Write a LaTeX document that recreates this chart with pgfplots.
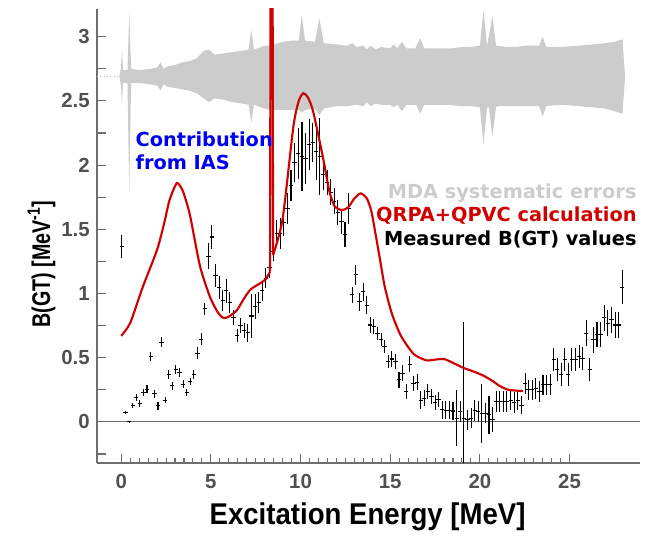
\documentclass[border=0pt]{standalone}
\usepackage{pgfplots}
\pgfplotsset{compat=1.18}
\usepackage{pgfplotstable}
\usepackage{fontspec}
\setmainfont{Liberation Sans}
\newfontfamily\dejavu{DejaVu Sans}
\newfontfamily\tickfont{Liberation Sans}
\newfontfamily\xlabfont{Liberation Sans}[FakeStretch=0.92]
\newfontfamily\ylabfont{Liberation Sans}[FakeStretch=0.77]
\definecolor{bandgray}{RGB}{204,204,204}
\definecolor{tickgray}{RGB}{80,80,80}
\definecolor{axgray}{RGB}{110,110,110}
\definecolor{calcred}{RGB}{208,0,0}
\definecolor{iasblue}{RGB}{0,0,240}

\pgfplotstableread{
x y e
0.04 1.365 0.09
0.24 0.072 0.012
0.44 0.000 0.006
0.64 0.125 0.02
0.84 0.19 0.025
1.04 0.145 0.025
1.24 0.23 0.025
1.44 0.255 0.03
1.65 0.51 0.035
1.85 0.22 0.03
2.05 0.125 0.03
2.25 0.62 0.04
2.45 0.17 0.025
2.65 0.37 0.035
2.85 0.28 0.03
3.05 0.405 0.035
3.25 0.385 0.035
3.45 0.295 0.03
3.65 0.23 0.03
3.85 0.315 0.03
4.05 0.37 0.035
4.25 0.535 0.045
4.46 0.645 0.045
4.66 0.88 0.05
4.86 1.29 0.10
5.06 1.44 0.09
5.26 1.14 0.09
5.46 1.05 0.09
5.66 0.945 0.08
5.86 1.02 0.09
6.06 0.93 0.08
6.26 0.815 0.06
6.46 0.67 0.05
6.66 0.75 0.06
6.86 0.71 0.06
7.06 0.695 0.07
7.27 0.825 0.17
7.47 0.90 0.10
7.67 0.93 0.08
7.87 1.02 0.08
8.07 1.12 0.08
8.27 1.20 0.08
8.47 1.33 0.08
8.67 1.47 0.10
8.87 1.47 0.12
9.07 1.55 0.10
9.27 1.66 0.12
9.47 1.84 0.12
9.67 2.02 0.15
9.87 2.09 0.20
10.08 2.065 0.27
10.28 2.05 0.20
10.48 2.16 0.20
10.68 2.175 0.15
10.88 2.105 0.22
11.08 2.065 0.30
11.28 1.93 0.12
11.48 1.865 0.10
11.68 1.79 0.10
11.88 1.72 0.10
12.08 1.63 0.10
12.28 1.56 0.10
12.48 1.46 0.10
12.68 1.66 0.12
12.88 0.99 0.06
13.09 1.145 0.08
13.29 0.935 0.07
13.49 1.015 0.07
13.69 0.91 0.07
13.89 0.755 0.06
14.09 0.745 0.06
14.29 0.69 0.05
14.49 0.64 0.05
14.69 0.585 0.05
14.89 0.47 0.05
15.09 0.49 0.06
15.29 0.47 0.06
15.49 0.327 0.06
15.69 0.38 0.06
15.90 0.236 0.06
16.10 0.45 0.06
16.30 0.30 0.06
16.50 0.31 0.06
16.70 0.17 0.07
16.90 0.185 0.06
17.10 0.236 0.06
17.30 0.20 0.06
17.50 0.15 0.06
17.70 0.175 0.06
17.90 0.095 0.07
18.10 0.09 0.07
18.30 0.09 0.07
18.50 0.085 0.07
18.71 0.03 0.22
18.91 0.08 0.08
19.11 0.03 0.75
19.31 0.016 0.08
19.51 0.03 0.08
19.71 0.09 0.08
19.91 0.08 0.08
20.11 0.068 0.23
20.31 0.068 0.08
20.51 0.055 0.15
20.71 0.02 0.10
20.91 0.158 0.08
21.11 0.158 0.08
21.31 0.16 0.08
21.51 0.158 0.08
21.72 0.17 0.08
21.92 0.153 0.08
22.12 0.17 0.08
22.32 0.13 0.07
22.52 0.30 0.08
22.72 0.25 0.08
22.92 0.25 0.08
23.12 0.26 0.08
23.32 0.236 0.08
23.52 0.288 0.08
23.72 0.288 0.08
23.92 0.29 0.08
24.12 0.483 0.09
24.32 0.405 0.09
24.53 0.366 0.09
24.73 0.483 0.09
24.93 0.366 0.09
25.13 0.483 0.09
25.33 0.483 0.09
25.53 0.509 0.09
25.73 0.496 0.09
25.93 0.69 0.10
26.13 0.405 0.09
26.33 0.64 0.10
26.53 0.68 0.10
26.73 0.68 0.10
26.93 0.81 0.10
27.13 0.77 0.10
27.34 0.795 0.10
27.54 0.755 0.10
27.74 0.755 0.10
27.94 1.05 0.13
}\measured

\begin{document}
\begin{tikzpicture}
\useasboundingbox (-72.75pt,-57pt) rectangle (411.75pt,347.25pt);
\begin{axis}[
  at={(0,0)}, anchor=south west,
  width=407.25pt, height=340.5pt, scale only axis,
  xmin=-1.35, xmax=28.93, ymin=-0.32, ymax=3.216,
  axis x line*=bottom, axis y line*=left,
  axis line style={axgray, line width=0.9pt},
  tick align=inside,
  tick style={axgray, line width=0.8pt},
  major tick length=7pt, minor tick length=3.5pt,
  xtick={0,5,...,25}, minor x tick num=9,
  ytick={-0.25,0,0.25,...,3},
  yticklabels={{},0,{},0.5,{},1,{},1.5,{},2,{},2.5,{},3},
  /pgf/number format/assume math mode=true,
  tick label style={font=\tickfont\bfseries\fontsize{15.3}{16}\selectfont, text=tickgray},
  xticklabel style={yshift=-5pt},
  yticklabel style={xshift=-2pt},
  clip mode=individual,
]
% MDA systematic error band
\addplot[fill=bandgray, draw=none] coordinates {
(-0.11,2.69) (-0.02,2.75) (0.05,2.90) (0.1,2.74) (0.35,2.74) (0.45,3.19) (0.55,2.75) (1.0,2.74) (1.6,2.75) (2.0,2.76) (2.2,2.80) (2.35,2.75) (2.6,2.77) (3.0,2.78) (3.4,2.80) (3.8,2.81) (4.2,2.83) (4.6,2.89) (4.9,2.90) (5.2,2.86) (5.7,2.87) (6.2,2.88) (6.7,2.89) (7.1,2.90) (7.25,3.05) (7.4,2.90) (8.0,2.93) (8.3,2.93) (8.4,3.4) (8.5,2.94) (9.0,2.96) (9.5,2.97) (9.9,2.97) (10.07,3.17) (10.25,2.97) (10.8,2.96) (11.05,3.14) (11.3,2.95) (12.0,2.94) (12.6,2.93) (12.9,2.95) (13.1,2.92) (13.5,2.93) (13.7,2.90) (13.9,2.93) (14.2,2.90) (14.5,2.92) (15.0,2.91) (15.2,2.94) (15.4,2.91) (15.65,2.96) (15.9,2.91) (16.4,2.91) (16.67,2.99) (16.9,2.91) (17.5,2.91) (18.0,2.91) (18.5,2.91) (19.0,2.92) (19.5,2.92) (20.0,2.93) (20.2,3.21) (20.4,2.93) (20.7,3.16) (20.9,2.93) (21.5,2.92) (22.0,2.92) (22.5,2.93) (23.0,2.93) (23.3,2.93) (23.5,3.0) (23.7,2.92) (24.5,2.92) (25.5,2.93) (26.3,2.94) (27.0,2.95) (27.5,2.96) (27.95,2.98) (28.1,2.69)
(27.95,2.40) (27.5,2.42) (27.0,2.44) (26.3,2.45) (25.5,2.46) (24.5,2.47) (23.7,2.46) (23.5,2.38) (23.3,2.46) (23.0,2.46) (22.0,2.46) (21.0,2.46) (20.9,2.45) (20.7,2.22) (20.5,2.45) (20.4,2.45) (20.2,2.16) (20.0,2.45) (19.5,2.46) (19.0,2.46) (18.0,2.47) (17.5,2.47) (16.9,2.47) (16.67,2.40) (16.45,2.47) (15.9,2.47) (15.65,2.42) (15.4,2.47) (15.2,2.45) (15.0,2.47) (14.5,2.47) (14.2,2.48) (13.9,2.46) (13.7,2.49) (13.5,2.46) (13.1,2.47) (12.6,2.46) (12.0,2.46) (11.3,2.44) (11.05,2.39) (10.8,2.44) (10.25,2.43) (10.07,2.41) (9.9,2.43) (9.5,2.43) (9.0,2.43) (8.5,2.43) (8.4,2.2) (8.3,2.43) (8.0,2.44) (7.4,2.47) (7.25,2.33) (7.1,2.47) (6.7,2.48) (6.2,2.49) (5.7,2.51) (5.2,2.52) (4.9,2.49) (4.6,2.52) (4.2,2.56) (3.8,2.58) (3.4,2.59) (3.0,2.60) (2.6,2.61) (2.35,2.63) (2.2,2.58) (2.0,2.62) (1.6,2.63) (1.0,2.64) (0.55,2.64) (0.45,1.78) (0.35,2.64) (0.1,2.64) (0.05,2.48) (-0.02,2.63) (-0.11,2.69)
} -- cycle;
\addplot[bandgray!80!gray, dotted, line width=0.5pt] coordinates {(-1.35,2.69) (-0.11,2.69)};
% zero line
\addplot[axgray, line width=0.7pt] coordinates {(-1.35,0) (28.93,0)};
% measured values
\addplot[draw=none, mark=none,
  error bars/.cd, x dir=both, x fixed=0.12, y dir=both, y explicit,
  error mark=none, error bar style={draw=black, solid, line width=0.8pt}]
  table[x=x, y=y, y error=e] {\measured};
% QRPA+QPVC calculation
\addplot[calcred, line width=1.6pt, smooth, tension=0.4] coordinates {
(0,0.67) (0.5,0.77) (1.2,1.05) (2.0,1.34) (2.4,1.55) (2.7,1.73) (3.1,1.86) (3.4,1.81) (3.6,1.73) (3.85,1.6) (4.4,1.21) (4.96,0.97) (5.4,0.85) (5.7,0.81) (6.0,0.82) (6.45,0.87) (6.8,0.95) (7.2,1.03) (7.75,1.08) (8.05,1.11) (8.3,1.17)
};
\addplot[calcred, line width=1.6pt] coordinates {(8.3,1.17) (8.33,3.6) (8.44,3.6) (8.47,1.30)};
\addplot[calcred, line width=1.6pt, smooth, tension=0.4] coordinates {
(8.47,1.30) (9.0,1.58) (9.6,2.30) (9.9,2.50) (10.15,2.56) (10.4,2.53) (10.7,2.42) (11.25,2.06) (11.6,1.80) (11.9,1.68) (12.3,1.65) (12.65,1.67) (13.0,1.74) (13.35,1.78) (13.7,1.74) (13.95,1.64) (14.2,1.45) (14.45,1.25) (14.7,1.05) (15.1,0.84) (15.6,0.67) (16.3,0.53) (17.0,0.48) (17.5,0.485) (18.0,0.49) (18.5,0.46) (19.1,0.42) (19.7,0.39) (20.2,0.36) (20.7,0.32) (21.1,0.28) (21.6,0.25) (22.4,0.24)
};
% axis labels
\node[anchor=base, font=\xlabfont\bfseries\fontsize{22.5}{24}\selectfont] at (axis cs:13.74,-0.802) {Excitation Energy [MeV]};
\node[anchor=base, rotate=90, font=\ylabfont\bfseries\fontsize{19.2}{22}\selectfont] at (axis cs:-3.97,1.23) {B(GT) [MeV\textsuperscript{-1}]};
% annotations
\node[anchor=base west, font=\dejavu\bfseries\fontsize{14.5}{16}\selectfont, text=iasblue] at (axis cs:0.54,2.144) {Contribution};
\node[anchor=base west, font=\dejavu\bfseries\fontsize{14.5}{16}\selectfont, text=iasblue] at (axis cs:0.54,1.968) {from IAS};
\node[anchor=base east, font=\dejavu\bfseries\fontsize{14.5}{16}\selectfont, text=bandgray] at (axis cs:29.0,1.742) {MDA systematic errors};
\node[anchor=base east, font=\dejavu\bfseries\fontsize{14.5}{16}\selectfont, text=calcred] at (axis cs:29.0,1.56) {QRPA+QPVC calculation};
\node[anchor=base east, font=\dejavu\bfseries\fontsize{14.5}{16}\selectfont, text=black] at (axis cs:29.0,1.371) {Measured B(GT) values};
\end{axis}
\end{tikzpicture}
\end{document}
